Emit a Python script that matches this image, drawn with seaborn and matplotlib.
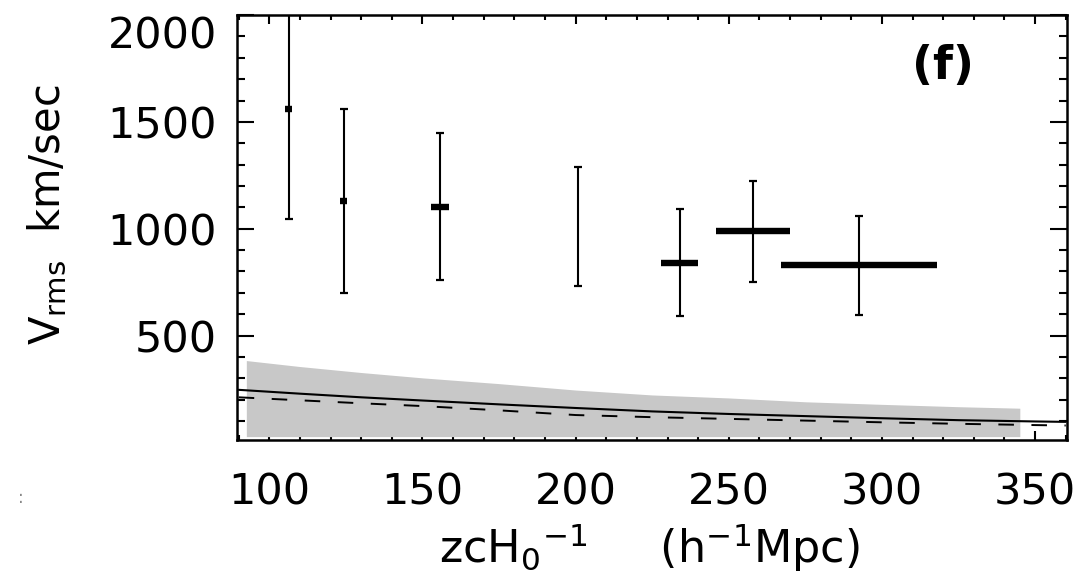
import matplotlib
matplotlib.use('Agg')
import seaborn as sns
import matplotlib.pyplot as plt
import numpy as np
import pandas as pd
from matplotlib.ticker import MultipleLocator

# measured points: distance, Vrms, error, bin half-width
dist = [106.3, 124.3, 155.8, 200.9, 234.0, 258.0, 292.6]
vrms = [1558, 1131, 1104, 1010, 840, 988, 829]
verr = [511, 430, 342, 277, 250, 237, 232]
xhalf = [1.15, 1.15, 2.9, 0.0, 6.0, 12.1, 25.5]

# model curves
curve_x = [90, 110, 130, 150, 175, 200, 225, 250, 275, 300, 325, 350, 360]
curve_solid = [246, 228, 211, 196, 178, 161, 145, 133, 123, 113, 104, 98, 96]
curve_dash = [211, 197, 183, 170, 150, 128, 118, 110, 102, 94, 87, 81, 79]

# grey band
band_x = [92.5, 110, 130, 150, 175, 200, 225, 250, 275, 300, 325, 345]
band_top = [383, 355, 327, 302, 275, 245, 222, 208, 190, 178, 167, 160]
band_bottom = 27

sns.set_theme(style='ticks')
plt.rcParams['font.family'] = ['DejaVu Sans']
plt.rcParams['mathtext.fontset'] = 'dejavusans'
for key in ['text.color', 'axes.labelcolor', 'xtick.color', 'ytick.color', 'axes.edgecolor']:
    plt.rcParams[key] = 'black'

fig = plt.figure(figsize=(10.88, 5.79), dpi=100)
ax = fig.add_axes([0.2174, 0.240, 0.763, 0.734])

# 灰色区域
ax.fill_between(band_x, band_bottom, band_top, color='#c8c8c8', lw=0, zorder=2)

df = pd.DataFrame({'x': curve_x, 'solid': curve_solid, 'dash': curve_dash})
sns.lineplot(data=df, x='x', y='solid', color='black', lw=1.5, ax=ax, zorder=3)
sns.lineplot(data=df, x='x', y='dash', color='black', lw=1.4, ax=ax, zorder=3,
             linestyle=(0, (8, 9)))

# 误差棒
ax.errorbar(dist, vrms, yerr=verr, fmt='none', ecolor='black', elinewidth=1.5,
            capsize=3, capthick=1.6, zorder=4)
ax.errorbar(dist, vrms, xerr=xhalf, fmt='none', ecolor='black', elinewidth=4.6,
            capsize=0, zorder=4)
for ln in ax.collections[-1:]:
    ln.set_capstyle('butt')

ax.set_xlim(89.3, 360.3)
ax.set_ylim(11, 2000)
ax.set_xticks([100, 150, 200, 250, 300, 350])
ax.set_yticks([500, 1000, 1500, 2000])
ax.xaxis.set_minor_locator(MultipleLocator(10))
ax.yaxis.set_minor_locator(MultipleLocator(100))

ax.tick_params(which='both', direction='in', top=True, right=True, width=1.5,
               color='black', labelcolor='black')
ax.tick_params(axis='x', which='major', length=6.5, pad=23, labelsize=31)
ax.tick_params(axis='x', which='minor', length=3.6)
ax.tick_params(axis='y', which='major', length=12, pad=14, labelsize=31)
ax.tick_params(axis='y', which='minor', length=6)
for sp in ax.spines.values():
    sp.set_linewidth(1.8)
    sp.set_color('black')
    sp.set_zorder(5)

fig.canvas.draw()
for lab in ax.get_yticklabels():
    if lab.get_text() == '2000':
        lab.set_va('top')

ax.set_xlabel(r'zcH$_0$$^{-1}$     (h$^{-1}$Mpc)', fontsize=32)
ax.xaxis.set_label_coords(0.497, -0.19)
ax.xaxis.label.set_va('top')
ax.set_ylabel(r'V$_{\rm rms}$  km/sec', fontsize=30)
ax.yaxis.set_label_coords(-0.228, 0.53)
ax.yaxis.label.set_va('center')

ax.text(0.851, 0.878, '(f)', transform=ax.transAxes, fontsize=33, fontweight='bold',
        ha='center', va='center', color='black')

fig.text(0.019, 0.14, ':', color='#888888', fontsize=12, ha='center', va='center')

fig.savefig('out.png', dpi=100)
